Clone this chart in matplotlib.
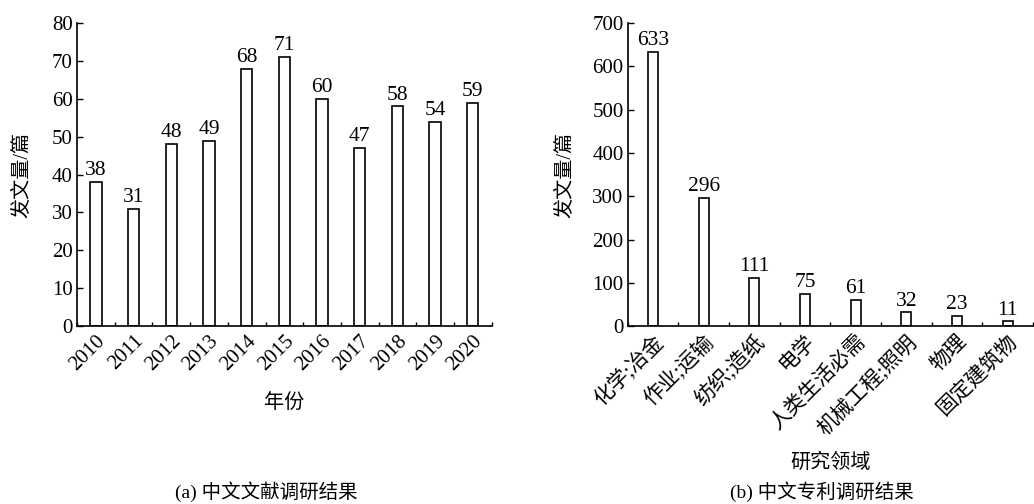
import matplotlib
matplotlib.use("Agg")
import matplotlib.pyplot as plt
import numpy as np

# 数据
years = ["2010", "2011", "2012", "2013", "2014", "2015", "2016", "2017", "2018", "2019", "2020"]
papers = [38, 31, 48, 49, 68, 71, 60, 47, 58, 54, 59]

fields = ["化学;冶金", "作业;运输", "纺织;造纸", "电学", "人类生活必需",
          "机械工程;照明", "物理", "固定建筑物"]
patents = [633, 296, 111, 75, 61, 32, 23, 11]

plt.rcParams['font.family'] = ['Liberation Serif', 'Noto Sans CJK SC']
plt.rcParams['font.size'] = 15

fig = plt.figure(figsize=(10.34, 5.04), dpi=100)

def estilo(ax, n):
    ax.spines['top'].set_visible(False)
    ax.spines['right'].set_visible(False)
    ax.tick_params(axis='y', direction='in', length=4, width=1, pad=3)
    ax.tick_params(axis='x', which='major', length=0, pad=4)
    ax.set_xticks(np.arange(n + 1) - 0.5, minor=True)
    ax.tick_params(axis='x', which='minor', direction='in', length=3, width=1)
    for s in ax.spines.values():
        s.set_linewidth(1.2)

# (a) 中文文献
ax1 = fig.add_axes([0.0745, 0.353, 0.401, 0.601])
x1 = np.arange(len(years))
ax1.bar(x1, papers, width=0.3, color='white', edgecolor='black', linewidth=1.2)
for xi, v in zip(x1, papers):
    ax1.text(xi, v + 0.5, str(v), ha='center', va='bottom', fontsize=15.5)
ax1.set_xlim(-0.5, len(years) - 0.5)
ax1.set_ylim(0, 80)
ax1.set_yticks(range(0, 81, 10))
ax1.set_xticks(x1)
ax1.set_xticklabels(years, rotation=45, ha='right', rotation_mode='anchor')
estilo(ax1, len(years))
ax1.set_ylabel("发文量/篇", fontsize=14.5, labelpad=14)
ax1.set_xlabel("年份", fontsize=14.5, labelpad=14)
fig.text(0.258, 0.012, "(a) 中文文献调研结果", ha='center', fontsize=14)

# (b) 中文专利
ax2 = fig.add_axes([0.607, 0.353, 0.392, 0.601])
x2 = np.arange(len(fields))
ax2.bar(x2, patents, width=0.2, color='white', edgecolor='black', linewidth=1.2)
for xi, v in zip(x2, patents):
    ax2.text(xi, v + 4, str(v), ha='center', va='bottom', fontsize=15.5)
ax2.set_xlim(-0.5, 7.3)
ax2.set_ylim(0, 700)
ax2.set_yticks(range(0, 701, 100))
ax2.set_xticks(x2)
ax2.set_xticklabels(fields, rotation=45, ha='right', rotation_mode='anchor', fontsize=15)
estilo(ax2, len(fields))
ax2.set_ylabel("发文量/篇", fontsize=14.5, labelpad=12)
ax2.set_xlabel("研究领域", fontsize=14.5, labelpad=10)
fig.text(0.795, 0.012, "(b) 中文专利调研结果", ha='center', fontsize=14)

fig.savefig("out.png", dpi=100)
